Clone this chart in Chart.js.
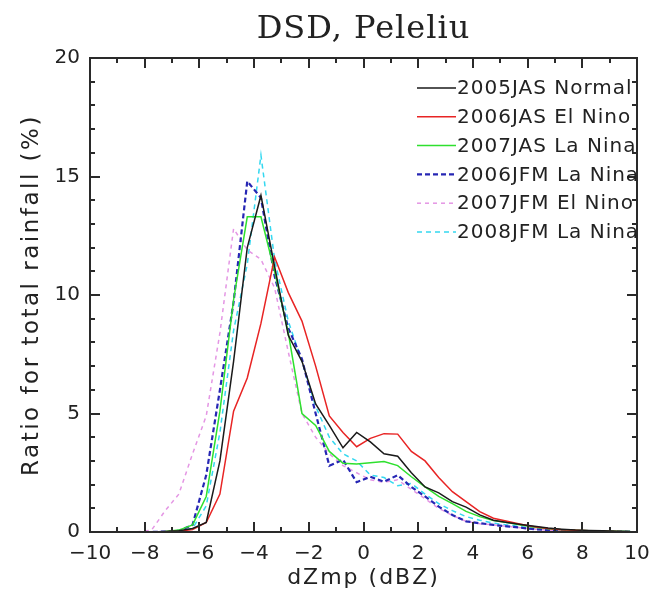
<!DOCTYPE html>
<html>
<head>
<meta charset="utf-8">
<script src="https://cdn.jsdelivr.net/npm/chart.js@4/dist/chart.umd.min.js"></script>
<style>
  html, body { margin: 0; padding: 0; background: #fff; }
  #wrap { width: 660px; height: 592px; }
</style>
</head>
<body>
<div id="wrap"><canvas id="dsd"></canvas></div>
<script>
// dZmp bin centres (dBZ)
const dbzBins = [-9.75, -9.25, -8.75, -8.25, -7.75, -7.25, -6.75, -6.25, -5.75, -5.25,
                 -4.75, -4.25, -3.75, -3.25, -2.75, -2.25, -1.75, -1.25, -0.75, -0.25,
                 0.25, 0.75, 1.25, 1.75, 2.25, 2.75, 3.25, 3.75, 4.25, 4.75,
                 5.25, 5.75, 6.25, 6.75, 7.25, 7.75, 8.25, 8.75, 9.25, 9.75];

// ratio for total rainfall (%)
const jas2005Normal = [0, 0, 0, 0, 0, 0.02, 0.05, 0.15, 0.4, 3.0,
                       7.2, 12.0, 14.2, 11.2, 8.3, 7.2, 5.4, 4.5, 3.55, 4.2,
                       3.8, 3.3, 3.2, 2.5, 1.9, 1.65, 1.28, 1.05, 0.72, 0.5,
                       0.4, 0.32, 0.24, 0.17, 0.12, 0.08, 0.06, 0.05, 0.03, 0.02];
const jas2006ElNino = [0, 0, 0, 0, 0, 0.01, 0.03, 0.1, 0.4, 1.6,
                       5.1, 6.5, 8.8, 11.6, 10.1, 8.9, 7.0, 4.9, 4.2, 3.6,
                       3.95, 4.15, 4.13, 3.4, 3.0, 2.3, 1.7, 1.28, 0.86, 0.58,
                       0.45, 0.33, 0.22, 0.15, 0.1, 0.07, 0.05, 0.03, 0.02, 0.01];
const jas2007LaNina = [0, 0, 0, 0, 0, 0.02, 0.08, 0.3, 1.5, 5.1,
                       9.8, 13.3, 13.3, 11.0, 8.4, 5.0, 4.5, 3.4, 2.9, 2.87,
                       2.92, 2.97, 2.8, 2.33, 1.9, 1.5, 1.2, 0.87, 0.65, 0.48,
                       0.4, 0.3, 0.2, 0.14, 0.1, 0.07, 0.05, 0.04, 0.03, 0.02];
const jfm2006LaNina = [0, 0, 0, 0, 0, 0.02, 0.05, 0.3, 2.4, 6.0,
                       9.7, 14.8, 14.1, 10.8, 8.6, 7.3, 5.0, 2.8, 3.05, 2.1,
                       2.33, 2.12, 2.4, 1.9, 1.5, 1.07, 0.72, 0.45, 0.37, 0.3,
                       0.24, 0.18, 0.12, 0.08, 0.06, 0.04, 0.03, 0.02, 0.02, 0.01];
const jfm2007ElNino = [0, 0, 0, 0.01, 0.08, 0.9, 1.6, 3.3, 4.9, 8.4,
                       12.8, 11.9, 11.5, 10.3, 7.6, 5.0, 4.0, 3.3, 2.8, 2.5,
                       2.2, 2.1, 2.2, 1.8, 1.4, 1.0, 0.7, 0.45, 0.35, 0.3,
                       0.24, 0.18, 0.12, 0.08, 0.06, 0.04, 0.03, 0.02, 0.01, 0.01];
const jfm2008LaNina = [0, 0, 0, 0, 0, 0.01, 0.04, 0.15, 1.1, 4.2,
                       8.5, 11.3, 15.9, 11.5, 8.9, 7.2, 5.3, 4.0, 3.3, 3.0,
                       2.4, 2.3, 1.95, 2.05, 1.6, 1.2, 0.9, 0.65, 0.5, 0.37,
                       0.3, 0.22, 0.15, 0.1, 0.07, 0.05, 0.04, 0.03, 0.02, 0.02];

const seriesNames = ['2005JAS Normal', '2006JAS El Nino', '2007JAS La Nina',
                     '2006JFM La Nina', '2007JFM El Nino', '2008JFM La Nina'];
const seriesValues = [jas2005Normal, jas2006ElNino, jas2007LaNina,
                      jfm2006LaNina, jfm2007ElNino, jfm2008LaNina];

// estilo de cada serie
const estilos = [
    { color: '#1a1a1a', dash: [],     width: 1.5 },
    { color: '#e82424', dash: [],     width: 1.5 },
    { color: '#2ee02e', dash: [],     width: 1.5 },
    { color: '#2626b4', dash: [5, 3], width: 2.2 },
    { color: '#e496e4', dash: [4, 4], width: 1.5 },
    { color: '#34d8f0', dash: [5, 4], width: 1.5 }
];

const datasets = seriesNames.map((nombre, i) => ({
    label: nombre,
    data: dbzBins.map((x, k) => ({ x: x, y: seriesValues[i][k] })),
    borderColor: estilos[i].color,
    borderDash: estilos[i].dash,
    borderWidth: estilos[i].width,
    pointRadius: 0,
    tension: 0,
    fill: false
}));

const fuente = '"DejaVu Sans", sans-serif';
const colorEje = '#2a2a2a';
const bordeEje = { display: true, color: colorEje, width: 2, z: 1 };

// marcas de eje hacia dentro, títulos y leyenda
const marcoPlugin = {
    id: 'marco',
    afterDatasetsDraw(chart) {
        const ctx = chart.ctx;
        const a = chart.chartArea;
        const sx = chart.scales.x;
        const sy = chart.scales.y;
        const L = Math.round(a.left), R = Math.round(a.right);
        const T = Math.round(a.top), B = Math.round(a.bottom);
        ctx.save();
        ctx.fillStyle = colorEje;
        for (let v = -9; v <= 9; v++) {
            const px = Math.round(sx.getPixelForValue(v));
            const len = v % 2 === 0 ? 10 : 5;
            ctx.fillRect(px - 1, B - len, 2, len);
            ctx.fillRect(px - 1, T, 2, len);
        }
        for (let v = 1; v <= 19; v++) {
            const py = Math.round(sy.getPixelForValue(v));
            const len = v % 5 === 0 ? 10 : 5;
            ctx.fillRect(L, py - 1, len, 2);
            ctx.fillRect(R - len, py - 1, len, 2);
        }
        ctx.restore();
    },
    afterDraw(chart) {
        const ctx = chart.ctx;
        const a = chart.chartArea;
        ctx.save();
        // marco
        ctx.fillStyle = colorEje;
        ctx.fillRect(a.left - 1, a.top - 1, a.right - a.left + 2, 2);
        ctx.fillRect(a.left - 1, a.bottom - 1, a.right - a.left + 2, 2);
        ctx.fillRect(a.left - 1, a.top - 1, 2, a.bottom - a.top + 2);
        ctx.fillRect(a.right - 1, a.top - 1, 2, a.bottom - a.top + 2);

        // título
        ctx.fillStyle = '#222';
        ctx.textAlign = 'center';
        ctx.textBaseline = 'middle';
        ctx.font = '32px "DejaVu Serif", serif';
        ctx.letterSpacing = '1px';
        ctx.fillText('DSD, Peleliu', (a.left + a.right) / 2, 30);

        // títulos de ejes
        ctx.font = '22px ' + fuente;
        ctx.letterSpacing = '2px';
        ctx.fillText('dZmp (dBZ)', (a.left + a.right) / 2, 578);
        ctx.save();
        ctx.translate(32, (a.top + a.bottom) / 2);
        ctx.rotate(-Math.PI / 2);
        ctx.font = '23px ' + fuente;
        ctx.letterSpacing = '2.5px';
        ctx.fillText('Ratio for total rainfall (%)', 0, 0);
        ctx.restore();

        // leyenda
        ctx.font = '20px ' + fuente;
        ctx.letterSpacing = '1px';
        ctx.textAlign = 'left';
        chart.data.datasets.forEach((ds, i) => {
            const y = 88 + i * 28.8;
            ctx.strokeStyle = ds.borderColor;
            ctx.lineWidth = ds.borderWidth;
            ctx.setLineDash(ds.borderDash);
            ctx.beginPath();
            ctx.moveTo(417, y); ctx.lineTo(456, y);
            ctx.stroke();
            ctx.setLineDash([]);
            ctx.fillStyle = '#222';
            ctx.fillText(ds.label, 457, y + 1);
        });
        ctx.restore();
    }
};

new Chart(document.getElementById('dsd'), {
    type: 'line',
    data: { datasets: datasets },
    options: {
        responsive: true,
        maintainAspectRatio: false,
        animation: false,
        layout: { padding: { left: 0, right: 23, top: 58, bottom: 0 } },
        plugins: {
            legend: { display: false },
            title: { display: false },
            tooltip: { enabled: false }
        },
        scales: {
            x: {
                type: 'linear',
                position: 'bottom',
                min: -10, max: 10,
                grid: { display: false, drawTicks: false },
                border: bordeEje,
                ticks: {
                    stepSize: 2,
                    padding: 10,
                    maxRotation: 0,
                    color: '#222',
                    font: { family: fuente, size: 20 },
                    callback: v => v < 0 ? '\u2212' + Math.abs(v) : String(v)
                },
                afterFit: s => { s.height = 60; }
            },
            xTop: {
                type: 'linear',
                position: 'top',
                min: -10, max: 10,
                grid: { display: false, drawTicks: false },
                border: bordeEje,
                ticks: { display: false },
                afterFit: s => { s.height = 0; }
            },
            y: {
                position: 'left',
                min: 0, max: 20,
                grid: { display: false, drawTicks: false },
                border: bordeEje,
                ticks: {
                    stepSize: 5,
                    padding: 10,
                    color: '#222',
                    font: { family: fuente, size: 20 }
                },
                afterFit: s => { s.width = 90; }
            },
            yRight: {
                position: 'right',
                min: 0, max: 20,
                grid: { display: false, drawTicks: false },
                border: bordeEje,
                ticks: { display: false },
                afterFit: s => { s.width = 0; }
            }
        }
    },
    plugins: [marcoPlugin]
});
</script>
</body>
</html>
